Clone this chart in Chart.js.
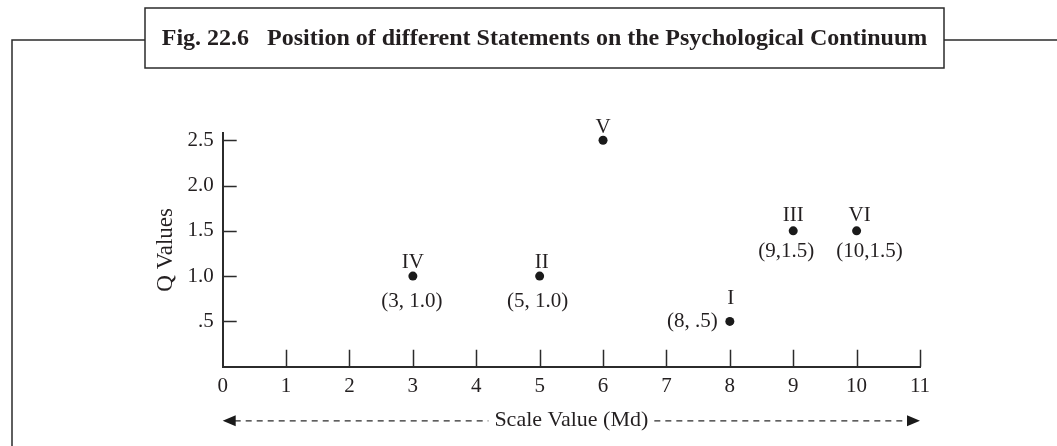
<!DOCTYPE html>
<html>
<head>
<meta charset="utf-8">
<title>Fig. 22.6</title>
<script src="https://cdn.jsdelivr.net/npm/chart.js@4.4.1/dist/chart.umd.min.js"></script>
<style>
  html, body { margin: 0; padding: 0; background: #fff; }
  #wrap { width: 1057px; height: 446px; position: relative; }
</style>
</head>
<body>
<div id="wrap"><canvas id="chart"></canvas></div>
<script>
// values
const statements = ['I', 'II', 'III', 'IV', 'V', 'VI'];
const scaleValues = [8, 5, 9, 3, 6, 10];           // Md
const qValues = [0.5, 1.0, 1.5, 1.0, 2.5, 1.5];
const coordLabels = ['(8, .5)', '(5, 1.0)', '(9,1.5)', '(3, 1.0)', '', '(10,1.5)'];

const xTicks = [0, 1, 2, 3, 4, 5, 6, 7, 8, 9, 10, 11];
const xTickLabels = ['0', '1', '2', '3', '4', '5', '6', '7', '8', '9', '10', '11'];
const yTicks = [0.5, 1.0, 1.5, 2.0, 2.5];
const yTickLabels = ['.5', '1.0', '1.5', '2.0', '2.5'];

const figTitle = 'Fig. 22.6   Position of different Statements on the Psychological Continuum';
const xTitle = 'Scale Value (Md)';
const yTitle = 'Q Values';

const SERIF = "'Liberation Serif', 'DejaVu Serif', serif";
const INK = '#231f20';

// where the roman numeral and the coordinate text sit around each point
const labelPlace = {
    'I':   { rx: 1, ry: -17, cx: -12, cy: 6, align: 'right' },
    'II':  { rx: 2, ry: -8, cx: -2, cy: 31 },
    'III': { rx: 0, ry: -10, cx: -7, cy: 26 },
    'IV':  { rx: 0, ry: -8, cx: -1, cy: 31 },
    'V':   { rx: 0, ry: -7 },
    'VI':  { rx: 3, ry: -10, cx: 13, cy: 26 }
};

const xTitleFont = { family: SERIF, size: 22 };
const xTitlePad = { top: 4, bottom: 13 };

// frame, title box, inward ticks, dashed arrow and point labels
const figurePlugin = {
    id: 'figure',
    afterDraw(chart) {
        const ctx = chart.ctx;
        const area = chart.chartArea;
        const xs = chart.scales.x;
        const ys = chart.scales.y;
        ctx.save();

        // outer frame with title box
        ctx.strokeStyle = '#2b2b2b';
        ctx.lineWidth = 1.5;
        ctx.beginPath();
        ctx.moveTo(12, chart.height);
        ctx.lineTo(12, 40);
        ctx.lineTo(145, 40);
        ctx.moveTo(944, 40);
        ctx.lineTo(chart.width, 40);
        ctx.stroke();
        ctx.strokeRect(145, 8, 799, 60);

        ctx.fillStyle = INK;
        ctx.font = 'bold 24px ' + SERIF;
        ctx.textAlign = 'center';
        ctx.textBaseline = 'middle';
        const tw = ctx.measureText(figTitle).width;
        const maxW = 782;
        ctx.save();
        ctx.translate(544.5, 39);
        if (tw > maxW) ctx.scale(maxW / tw, 1);
        ctx.fillText(figTitle, 0, 0);
        ctx.restore();

        // tick marks pointing into the plot
        ctx.strokeStyle = '#2b2b2b';
        ctx.lineWidth = 1.5;
        ctx.beginPath();
        yTicks.forEach(v => {
            const y = Math.round(ys.getPixelForValue(v)) + 0.5;
            ctx.moveTo(area.left, y);
            ctx.lineTo(area.left + 14, y);
        });
        xTicks.slice(1).forEach(v => {
            const x = Math.round(xs.getPixelForValue(v)) + 0.5;
            ctx.moveTo(x, area.bottom);
            ctx.lineTo(x, area.bottom - 17);
        });
        ctx.stroke();

        // dashed double arrow around the x title
        ctx.font = xTitleFont.size + 'px ' + SERIF;
        const w = ctx.measureText(xTitle).width;
        const cx = (xs.left + xs.right) / 2;
        const ay = xs.bottom - (xTitleFont.size * 1.2 / 2 + xTitlePad.bottom) + 1;
        const x0 = xs.getPixelForValue(xTicks[0]);
        const x1 = xs.getPixelForValue(xTicks[xTicks.length - 1]);
        ctx.lineWidth = 1.3;
        ctx.setLineDash([6, 5]);
        ctx.beginPath();
        ctx.moveTo(x0 + 12, ay);
        ctx.lineTo(cx - w / 2 - 6, ay);
        ctx.moveTo(cx + w / 2 + 6, ay);
        ctx.lineTo(x1 - 12, ay);
        ctx.stroke();
        ctx.setLineDash([]);
        ctx.fillStyle = '#1a1a1a';
        ctx.beginPath();
        ctx.moveTo(x0, ay);
        ctx.lineTo(x0 + 13, ay - 5.5);
        ctx.lineTo(x0 + 13, ay + 5.5);
        ctx.closePath();
        ctx.moveTo(x1, ay);
        ctx.lineTo(x1 - 13, ay - 5.5);
        ctx.lineTo(x1 - 13, ay + 5.5);
        ctx.closePath();
        ctx.fill();

        // statement numerals and coordinates
        const meta = chart.getDatasetMeta(0);
        ctx.fillStyle = INK;
        ctx.font = '21px ' + SERIF;
        ctx.textBaseline = 'alphabetic';
        meta.data.forEach((pt, i) => {
            const p = labelPlace[statements[i]];
            ctx.textAlign = 'center';
            ctx.fillText(statements[i], pt.x + p.rx, pt.y + p.ry);
            if (coordLabels[i]) {
                ctx.textAlign = p.align || 'center';
                ctx.fillText(coordLabels[i], pt.x + p.cx, pt.y + p.cy);
            }
        });
        ctx.restore();
    }
};

new Chart(document.getElementById('chart'), {
    type: 'scatter',
    data: {
        datasets: [{
            data: scaleValues.map((x, i) => ({ x: x, y: qValues[i] })),
            pointRadius: 4.5,
            pointHoverRadius: 4.5,
            pointBackgroundColor: '#1a1a1a',
            pointBorderWidth: 0
        }]
    },
    options: {
        responsive: true,
        maintainAspectRatio: false,
        animation: false,
        devicePixelRatio: 1,
        layout: { padding: { left: 148, top: 133, right: 137, bottom: 0 } },
        plugins: {
            legend: { display: false },
            tooltip: { enabled: false }
        },
        scales: {
            x: {
                type: 'linear',
                min: xTicks[0],
                max: xTicks[xTicks.length - 1],
                afterBuildTicks: s => { s.ticks = xTicks.map(v => ({ value: v })); },
                afterFit: s => { s.height = 79.3; },
                ticks: {
                    autoSkip: false,
                    maxRotation: 0,
                    padding: 7,
                    color: INK,
                    font: { family: SERIF, size: 21 },
                    callback: v => xTickLabels[xTicks.indexOf(v)]
                },
                grid: { display: false, drawTicks: false },
                border: { display: true, color: '#2b2b2b', width: 2 },
                title: {
                    display: true,
                    text: xTitle,
                    color: INK,
                    font: xTitleFont,
                    padding: xTitlePad
                }
            },
            y: {
                type: 'linear',
                min: 0,
                max: 2.58,
                afterBuildTicks: s => { s.ticks = yTicks.map(v => ({ value: v })); },
                afterFit: s => { s.width = 74.7; },
                ticks: {
                    padding: 9,
                    color: INK,
                    font: { family: SERIF, size: 21 },
                    callback: v => yTickLabels[yTicks.indexOf(v)]
                },
                grid: { display: false, drawTicks: false },
                border: { display: true, color: '#2b2b2b', width: 2 },
                title: {
                    display: true,
                    text: yTitle,
                    color: INK,
                    font: { family: SERIF, size: 23 },
                    padding: { top: 4, bottom: 0 }
                }
            }
        }
    },
    plugins: [figurePlugin]
});
</script>
</body>
</html>
